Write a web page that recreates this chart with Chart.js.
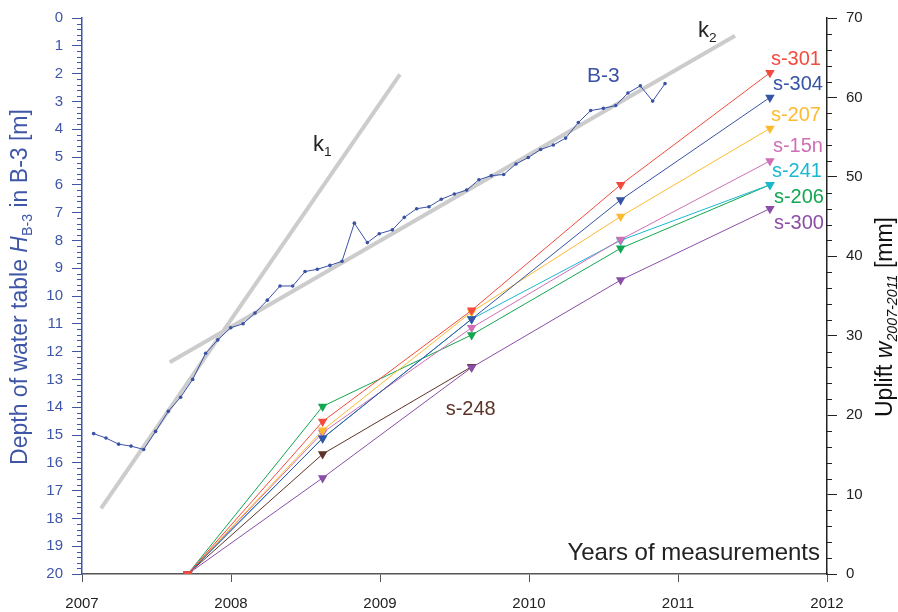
<!DOCTYPE html>
<html>
<head>
<meta charset="utf-8">
<script src="https://cdn.jsdelivr.net/npm/chart.js@4.4.1/dist/chart.umd.min.js"></script>
<style>
html, body { margin: 0; padding: 0; background: #fff; }
#wrap { width: 898px; height: 612px; }
</style>
</head>
<body>
<div id="wrap"><canvas id="chart" width="898" height="612"></canvas></div>
<script>
// --- data ---

// B-3 monthly water table depth [m]
const b3Years = [2007.078, 2007.161, 2007.246, 2007.329, 2007.414, 2007.494, 2007.579, 2007.662,
    2007.743, 2007.830, 2007.911, 2007.998, 2008.081, 2008.161, 2008.244, 2008.329, 2008.414,
    2008.497, 2008.579, 2008.664, 2008.745, 2008.828, 2008.915, 2008.995, 2009.083, 2009.163,
    2009.246, 2009.329, 2009.411, 2009.499, 2009.582, 2009.664, 2009.747, 2009.830, 2009.913,
    2009.995, 2010.078, 2010.163, 2010.246, 2010.331, 2010.414, 2010.499, 2010.582, 2010.664,
    2010.747, 2010.830, 2010.913];
const b3Depth = [14.95, 15.11, 15.33, 15.40, 15.52, 14.87, 14.15, 13.64,
    13.00, 12.06, 11.58, 11.14, 11.00, 10.61, 10.15, 9.64, 9.64,
    9.12, 9.04, 8.90, 8.75, 7.38, 8.08, 7.76, 7.62, 7.17,
    6.86, 6.79, 6.52, 6.33, 6.19, 5.82, 5.67, 5.63, 5.25,
    5.02, 4.73, 4.57, 4.32, 3.76, 3.33, 3.25, 3.15, 2.70,
    2.44, 2.99, 2.36];

// trend lines k1, k2
const k1Years = [2007.128, 2009.134];
const k1Depth = [17.64, 2.03];
const k2Years = [2007.589, 2011.383];
const k2Depth = [12.38, 0.64];

// levelling campaigns and uplift [mm]
const surveyYears = [2007.71, 2008.615, 2009.615, 2010.615, 2011.617];
const s301 = [0, 19.2, 33.2, 49.0, 63.1];
const s304 = [0, 17.1, 32.1, 47.1, 60.0];
const s207 = [0, 18.1, 33.0, 45.0, 56.1];
const s15n = [0, 17.8, 31.0, 42.1, 52.0];
const s241 = [0, 17.1, 32.1, 42.0, 49.0];
const s206 = [0, 21.1, 30.1, 41.0, 49.0];
const s300 = [0, 12.1, 26.0, 37.0, 46.0];
const s248 = [0, 15.1, 26.1];

const yearTicks = [2007, 2008, 2009, 2010, 2011, 2012];

const BLUE = '#3f56a6';
const FONT = '"Liberation Sans", Arial, sans-serif';

function pts(xs, ys) {
    return xs.map((x, i) => ({ x: x, y: ys[i] }));
}

// uplift series: name, values, colour, label offset from last point (px)
const benchmarks = [
    { name: 's-301', vals: s301, color: '#f24a3d', dx: 1, dy: -13 },
    { name: 's-304', vals: s304, color: '#3654a5', dx: 3, dy: -13 },
    { name: 's-207', vals: s207, color: '#fdba30', dx: 1, dy: -13 },
    { name: 's-15n', vals: s15n, color: '#cf6fb5', dx: 3, dy: -14 },
    { name: 's-241', vals: s241, color: '#1ab7d2', dx: 2, dy: -13 },
    { name: 's-206', vals: s206, color: '#12a650', dx: 4, dy: 13 },
    { name: 's-300', vals: s300, color: '#8b4ea6', dx: 4, dy: 15 },
    { name: 's-248', vals: s248, color: '#5e3329', dx: -26, dy: 43 }
];

const datasets = [];
benchmarks.forEach((b, i) => {
    datasets.push({
        label: b.name,
        data: pts(surveyYears.slice(0, b.vals.length), b.vals),
        yAxisID: 'yR',
        showLine: true,
        borderColor: b.color,
        backgroundColor: b.color,
        borderWidth: 1,
        pointStyle: 'triangle',
        rotation: 180,
        pointRadius: 5.5,
        pointBorderWidth: 0,
        order: i
    });
});
datasets.push({
    label: 'B-3',
    data: pts(b3Years, b3Depth),
    yAxisID: 'yL',
    showLine: true,
    borderColor: '#3a52a5',
    backgroundColor: '#3a52a5',
    borderWidth: 1,
    pointRadius: 1.8,
    pointBorderWidth: 0,
    order: 10
});
datasets.push({
    label: 'k1',
    data: pts(k1Years, k1Depth),
    yAxisID: 'yL',
    showLine: true,
    borderColor: '#cccccc',
    borderWidth: 4,
    pointRadius: 0,
    order: 20
});
datasets.push({
    label: 'k2',
    data: pts(k2Years, k2Depth),
    yAxisID: 'yL',
    showLine: true,
    borderColor: '#cccccc',
    borderWidth: 4,
    pointRadius: 0,
    order: 21
});

// draws text made of parts, some italic / subscript
function richText(ctx, parts, size, x, y, align) {
    const segs = parts.map(p => {
        const s = p.sub ? size * 0.62 : size;
        const f = (p.it ? 'italic ' : '') + s + 'px ' + FONT;
        ctx.font = f;
        return { t: p.t, f: f, w: ctx.measureText(p.t).width, dy: p.sub ? size * 0.22 : 0 };
    });
    const total = segs.reduce((a, s) => a + s.w, 0);
    let cx = x;
    if (align === 'center') cx = x - total / 2;
    if (align === 'right') cx = x - total;
    ctx.textAlign = 'left';
    ctx.textBaseline = 'alphabetic';
    segs.forEach(s => {
        ctx.font = s.f;
        ctx.fillText(s.t, cx, y + s.dy);
        cx += s.w;
    });
}

const extras = {
    id: 'extras',
    afterDraw(chart) {
        const ctx = chart.ctx;
        const xs = chart.scales.x, yl = chart.scales.yL, yr = chart.scales.yR;
        ctx.save();

        // minor ticks
        ctx.lineWidth = 1;
        ctx.strokeStyle = BLUE;
        ctx.beginPath();
        for (let i = 0; i <= 100; i++) {
            if (i % 5 === 0) continue;
            const py = Math.round(yl.getPixelForValue(i * 0.2)) + 0.5;
            ctx.moveTo(yl.right - 5, py);
            ctx.lineTo(yl.right, py);
        }
        ctx.stroke();
        ctx.strokeStyle = '#222';
        ctx.beginPath();
        for (let v = 0; v <= 70; v += 2) {
            if (v % 10 === 0) continue;
            const py = Math.round(yr.getPixelForValue(v)) + 0.5;
            ctx.moveTo(yr.left, py);
            ctx.lineTo(yr.left + 5, py);
        }
        ctx.stroke();

        // benchmark labels
        ctx.font = '20px ' + FONT;
        ctx.textAlign = 'left';
        ctx.textBaseline = 'middle';
        benchmarks.forEach(b => {
            const n = b.vals.length - 1;
            const px = xs.getPixelForValue(surveyYears[n]);
            const py = yr.getPixelForValue(b.vals[n]);
            ctx.fillStyle = b.color;
            ctx.fillText(b.name, px + b.dx, py + b.dy);
        });

        // B-3 label
        const lb = b3Years.length - 1;
        ctx.fillStyle = '#3a52a5';
        ctx.font = '21px ' + FONT;
        ctx.fillText('B-3', xs.getPixelForValue(b3Years[lb]) - 78, yl.getPixelForValue(b3Depth[lb]) - 7);

        // k labels
        ctx.fillStyle = '#222';
        richText(ctx, [{ t: 'k' }, { t: '1', sub: true }], 22,
            xs.getPixelForValue(k1Years[1]) - 87, yl.getPixelForValue(k1Depth[1]) + 77, 'left');
        richText(ctx, [{ t: 'k' }, { t: '2', sub: true }], 22,
            xs.getPixelForValue(k2Years[1]) - 37, yl.getPixelForValue(k2Depth[1]) + 1, 'left');

        // x title
        ctx.fillStyle = '#222';
        richText(ctx, [{ t: 'Years of measurements' }], 24, xs.right - 7, xs.top - 14, 'right');

        // left title
        ctx.save();
        ctx.translate(27, 287);
        ctx.rotate(-Math.PI / 2);
        ctx.fillStyle = BLUE;
        richText(ctx, [{ t: 'Depth of water table ' }, { t: 'H', it: true }, { t: 'B-3', sub: true },
            { t: ' in B-3 [m]' }], 23, 0, 0, 'center');
        ctx.restore();

        // right title
        ctx.save();
        ctx.translate(892, 317);
        ctx.rotate(-Math.PI / 2);
        ctx.fillStyle = '#111';
        richText(ctx, [{ t: 'Uplift ' }, { t: 'w', it: true }, { t: '2007-2011', sub: true, it: true },
            { t: ' [mm]' }], 23, 0, 0, 'center');
        ctx.restore();

        ctx.restore();
    }
};

Chart.defaults.font.family = FONT;

new Chart(document.getElementById('chart'), {
    type: 'scatter',
    data: { datasets: datasets },
    options: {
        responsive: false,
        animation: false,
        devicePixelRatio: 1,
        layout: { padding: { top: 14, left: 0, right: 0, bottom: 0 } },
        plugins: {
            legend: { display: false },
            tooltip: { enabled: false }
        },
        scales: {
            x: {
                type: 'linear',
                min: 2007,
                max: 2012,
                afterBuildTicks: s => { s.ticks = yearTicks.map(v => ({ value: v })); },
                afterFit: s => { s.height = 38; },
                ticks: { color: '#222', font: { size: 15 }, padding: 13, callback: v => String(v) },
                grid: { drawOnChartArea: false, tickLength: 8, tickColor: '#555' },
                border: { color: '#555', width: 1.5 }
            },
            yL: {
                type: 'linear',
                position: 'left',
                reverse: true,
                min: 0,
                max: 20,
                ticks: { stepSize: 1, color: BLUE, font: { size: 15 }, padding: 9 },
                afterFit: s => { s.width = 82; },
                grid: { drawOnChartArea: false, tickLength: 10, tickColor: BLUE },
                border: { color: BLUE, width: 1.5 }
            },
            yR: {
                type: 'linear',
                position: 'right',
                min: 0,
                max: 70,
                ticks: { stepSize: 10, color: '#222', font: { size: 15 }, padding: 9 },
                afterFit: s => { s.width = 71; },
                grid: { drawOnChartArea: false, tickLength: 10, tickColor: '#222' },
                border: { color: '#222', width: 1.5 }
            }
        }
    },
    plugins: [extras]
});
</script>
</body>
</html>
